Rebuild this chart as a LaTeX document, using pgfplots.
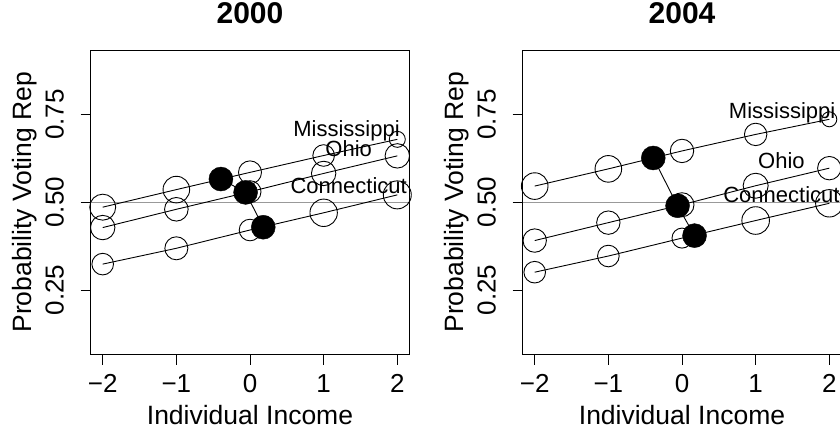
\documentclass[border=0pt]{standalone}
\usepackage{fontspec}
\setmainfont{Liberation Sans}
\usepackage{pgfplots}
\pgfplotsset{compat=1.18}

% one panel of the figure
\pgfplotsset{
  panel/.style={
    scale only axis, width=318.6pt, height=304.5pt, anchor=south west,
    xmin=-2.163, xmax=2.163, ymin=0.0668, ymax=0.9332,
    axis line style={line width=0.8pt},
    xtick={-2,-1,0,1,2}, xticklabels={−2,−1,0,1,2},
    ytick={0.25,0.5,0.75}, yticklabels={0.25,0.50,0.75},
    tick pos=left, tick align=outside, major tick length=10pt,
    tick style={black, line width=0.8pt},
    ticklabel style={font=\fontsize{26}{30}\selectfont},
    xticklabel style={anchor=base}, xticklabel shift=28pt,
    yticklabel style={rotate=90, anchor=base}, yticklabel shift=17pt,
    label style={font=\fontsize{26.5}{30}\selectfont},
    xlabel={Individual Income},
    xlabel style={at={(axis description cs:0.5,-0.2315)}, anchor=base},
    ylabel={Probability Voting Rep},
    ylabel style={at={(axis description cs:-0.187,0.5)}, anchor=base},
    title style={at={(axis description cs:0.5,1.068)}, anchor=base,
      font=\fontsize{30}{34}\selectfont\bfseries},
  },
  circ/.style={scatter, only marks, mark=o,
    mark options={line width=0.9pt},
    scatter/use mapped color={draw=black, fill=none},
    visualization depends on={\thisrow{r}\as\rad},
    scatter/@pre marker code/.append style={/tikz/mark size=\rad pt}},
  dot/.style={only marks, mark=*, mark size=12pt, mark options={draw=black, fill=black}},
  fit/.style={black, line width=0.9pt, no marks},
}
\tikzset{statelab/.style={font=\fontsize{22}{26}\selectfont, anchor=base}}

\begin{document}
\begin{tikzpicture}
\useasboundingbox (0,0) rectangle (840pt,432pt);

% ---------------- 2000 ----------------
\begin{axis}[panel, at={(90.7pt,77.5pt)}, title={2000}]
  \addplot[gray!60!lightgray, line width=0.8pt] coordinates {(-2.163,0.5) (2.163,0.5)};
  % Mississippi
  \addplot[fit] table {
    x y
    -2 0.486
    -1 0.536
     0 0.585
     1 0.633
     2 0.679
  };
  \addplot[circ] table {
    x y r
    -2 0.486 13
    -1 0.536 13.3
     0 0.585 11.5
     1 0.633 10.8
     2 0.679 8
  };
  % Ohio
  \addplot[fit] table {
    x y
    -2 0.428
    -1 0.480
     0 0.530
     1 0.582
     2 0.632
  };
  \addplot[circ] table {
    x y r
    -2 0.428 12.2
    -1 0.480 11.8
     0 0.530 11
     1 0.582 12.2
     2 0.632 12.2
  };
  % Connecticut
  \addplot[fit] table {
    x y
    -2 0.324
    -1 0.369
     0 0.421
     1 0.470
     2 0.521
  };
  \addplot[circ] table {
    x y r
    -2 0.324 10.8
    -1 0.369 11.5
     0 0.421 10.8
     1 0.470 13.7
     2 0.521 14
  };
  % state averages
  \addplot[fit] table {
    x y
    -0.395 0.566
    -0.06  0.528
     0.18  0.429
  };
  \addplot[dot] table {
    x y
    -0.395 0.566
    -0.06  0.528
     0.18  0.429
  };
  \node[statelab] at (axis cs:1.31,0.686) {Mississippi};
  \node[statelab] at (axis cs:1.34,0.629) {Ohio};
  \node[statelab] at (axis cs:1.34,0.526) {Connecticut};
\end{axis}

% ---------------- 2004 ----------------
\begin{axis}[panel, at={(522.7pt,77.5pt)}, title={2004}]
  \addplot[gray!60!lightgray, line width=0.8pt] coordinates {(-2.163,0.5) (2.163,0.5)};
  % Mississippi
  \addplot[fit] table {
    x y
    -2 0.546
    -1 0.595
     0 0.646
     1 0.693
     2 0.736
  };
  \addplot[circ] table {
    x y r
    -2 0.546 13.3
    -1 0.595 13.3
     0 0.646 11.7
     1 0.693 11.2
     2 0.736 7.5
  };
  % Ohio
  \addplot[fit] table {
    x y
    -2 0.391
    -1 0.442
     0 0.493
     1 0.547
     2 0.597
  };
  \addplot[circ] table {
    x y r
    -2 0.391 11.7
    -1 0.442 11.7
     0 0.493 12
     1 0.547 12.5
     2 0.597 11.7
  };
  % Connecticut
  \addplot[fit] table {
    x y
    -2 0.301
    -1 0.347
     0 0.398
     1 0.448
     2 0.497
  };
  \addplot[circ] table {
    x y r
    -2 0.301 10.8
    -1 0.347 10.8
     0 0.398 10
     1 0.448 13.8
     2 0.497 13.7
  };
  % state averages
  \addplot[fit] table {
    x y
    -0.39 0.626
    -0.06 0.490
     0.17 0.405
  };
  \addplot[dot] table {
    x y
    -0.39 0.626
    -0.06 0.490
     0.17 0.405
  };
  \node[statelab] at (axis cs:1.36,0.737) {Mississippi};
  \node[statelab] at (axis cs:1.35,0.595) {Ohio};
  \node[statelab] at (axis cs:1.35,0.500) {Connecticut};
\end{axis}
\end{tikzpicture}
\end{document}
